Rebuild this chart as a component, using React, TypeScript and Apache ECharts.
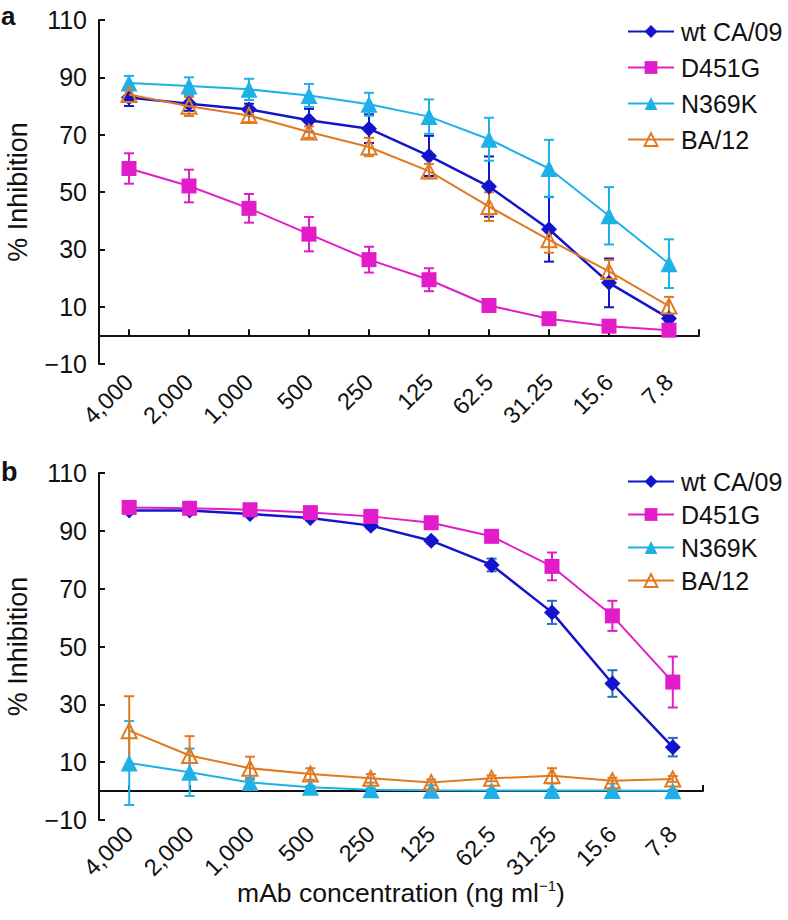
import React, { useEffect, useRef } from 'react';
import * as echarts from 'echarts';

// ---------- data ----------
const categories = ['4,000', '2,000', '1,000', '500', '250', '125', '62.5', '31.25', '15.6', '7.8'];
const seriesNames = ['wt CA/09', 'D451G', 'N369K', 'BA/12'];
const yTicks = { min: -10, max: 110, interval: 20 };

// panel a
const aWt = [83, 80.8, 78.8, 75, 72.1, 62.6, 51.9, 37, 18.3, 5.9];
const aWtErr = [3, 2.5, 2, 4, 5, 7, 10.5, 11.3, 8.5, 1];
const aD451G = [58.2, 52.1, 44.3, 35.3, 26.4, 19.4, 10.4, 5.8, 3.2, 1.8];
const aD451GErr = [5.3, 5.7, 5, 6, 4.5, 4, 1, 1, 0.8, 0.5];
const aN369K = [88, 87, 85.8, 83.7, 80.6, 76.3, 68.4, 58.2, 41.7, 25];
const aN369KErr = [2.5, 3, 3.7, 4, 4, 6, 7.5, 10, 10, 8.5];
const aBA12 = [84, 79.9, 76.7, 70.9, 65.7, 57.3, 44.9, 33.3, 22.3, 10.2];
const aBA12Err = [2.5, 3.4, 2.3, 2, 3.2, 2.5, 5, 4.5, 4, 3.2];

// panel b
const bWt = [97, 97, 95.8, 94.4, 91.8, 86.6, 78.2, 61.8, 37.2, 15.2];
const bWtErr = [1, 0.8, 0.8, 0.8, 1, 1, 2.2, 4, 4.6, 3.2];
const bD451G = [98.1, 97.8, 97.3, 96.3, 95, 92.8, 88.1, 77.7, 60.6, 37.7];
const bD451GErr = [1, 1, 1, 1, 1, 1, 1.2, 4.8, 5.2, 8.8];
const bN369K = [9.7, 6.5, 3, 1.3, 0.5, 0.3, 0.2, 0.2, 0.2, 0.1];
const bN369KErr = [14.5, 8.2, 1.5, 0.5, 0.5, 0.3, 0.3, 0.3, 0.3, 0.3];
const bBA12 = [20.9, 12.3, 7.9, 5.9, 4.4, 3, 4.4, 5.3, 3.6, 4.2];
const bBA12Err = [11.9, 6.7, 4, 2, 1.5, 1, 1, 2.6, 1, 1];

// ---------- styles ----------
const FONT = '"Liberation Sans", Arial, Helvetica, sans-serif';
const INK = '#111111';
const colors = ['#1414cc', '#e21cc9', '#1eb1e8', '#e07a22'];
const errColorsA = ['#1414cc', '#e21cc9', '#1eb1e8', '#e07a22'];
const errColorsB = ['#2a6cc4', '#e21cc9', '#1eb1e8', '#e07a22'];
const symbols = ['diamond', 'rect', 'triangle', 'triangle'];
const symbolSizes = [16, 15, 17, 15];
const lineWidths = [2.5, 2, 2, 2];

function errRender(color: string) {
  return (params: any, api: any) => {
    const xi = api.value(0);
    const lo = api.coord([xi, api.value(1)]);
    const hi = api.coord([xi, api.value(2)]);
    const hw = 5;
    const style = { stroke: color, lineWidth: 2, fill: 'none' };
    return {
      type: 'group',
      children: [
        { type: 'line', shape: { x1: lo[0], y1: lo[1], x2: hi[0], y2: hi[1] }, style },
        { type: 'line', shape: { x1: lo[0] - hw, y1: lo[1], x2: lo[0] + hw, y2: lo[1] }, style },
        { type: 'line', shape: { x1: hi[0] - hw, y1: hi[1], x2: hi[0] + hw, y2: hi[1] }, style },
      ],
    };
  };
}

function makeSeries(panel: number, vals: number[][], errs: number[][], errColors: string[]) {
  const out: any[] = [];
  vals.forEach((v, k) => {
    out.push({
      type: 'custom',
      name: 'err-' + panel + '-' + k,
      xAxisIndex: panel,
      yAxisIndex: panel,
      silent: true,
      z: 1,
      renderItem: errRender(errColors[k]),
      encode: { x: 0, y: [1, 2] },
      data: v.map((y, i) => [i, y - errs[k][i], y + errs[k][i]]),
    });
  });
  vals.forEach((v, k) => {
    const open = k === 3;
    out.push({
      type: 'line',
      name: seriesNames[k],
      xAxisIndex: panel,
      yAxisIndex: panel,
      z: 2 + k,
      symbol: symbols[k],
      symbolSize: symbolSizes[k],
      showAllSymbol: true,
      lineStyle: { color: colors[k], width: lineWidths[k] },
      itemStyle: open
        ? { color: 'rgba(255,255,255,0)', borderColor: colors[k], borderWidth: 2 }
        : { color: colors[k], borderWidth: 0 },
      data: v,
    });
  });
  return out;
}

const yAxisBase = (grid: number) => ({
  type: 'value',
  gridIndex: grid,
  min: yTicks.min,
  max: yTicks.max,
  interval: yTicks.interval,
  name: '% Inhibition',
  nameLocation: 'middle',
  nameGap: 68,
  nameMoveOverlap: false,
  nameTextStyle: { fontSize: 27, color: INK, fontFamily: FONT },
  splitLine: { show: false },
  axisLine: { show: true, lineStyle: { color: INK, width: 2 } },
  axisTick: { show: true, inside: true, length: 6, lineStyle: { color: INK, width: 2 } },
  axisLabel: {
    fontSize: 25,
    color: INK,
    fontFamily: FONT,
    margin: 12,
    formatter: (v: number) => String(v).replace('-', '\u2212'),
  },
});

const legendBase = (top: number, gap: number) => ({
  data: seriesNames,
  orient: 'vertical',
  left: 622,
  top,
  itemWidth: 46,
  itemHeight: 16,
  itemGap: gap,
  selectedMode: false,
  textStyle: { fontSize: 25, color: INK, fontFamily: FONT, padding: [0, 0, 0, 2] },
});

function buildOption() {
  return {
    animation: false,
    backgroundColor: '#ffffff',
    textStyle: { fontFamily: FONT, color: INK },
    grid: [
      { left: 99, top: 20, width: 600, height: 344, outerBoundsMode: 'none', containLabel: false },
      { left: 99, top: 473, width: 604, height: 347, outerBoundsMode: 'none', containLabel: false },
    ],
    legend: [legendBase(14, 11), legendBase(464, 8)],
    xAxis: [
      {
        type: 'category',
        gridIndex: 0,
        data: categories,
        axisLine: { show: true, onZero: true, lineStyle: { color: INK, width: 2 } },
        axisTick: { show: true, inside: true, alignWithLabel: true, length: 6, lineStyle: { color: INK, width: 2 } },
        axisLabel: { rotate: 45, interval: 0, fontSize: 23.5, color: INK, fontFamily: FONT, margin: 14 },
        splitLine: { show: false },
      },
      {
        type: 'category',
        gridIndex: 1,
        data: categories,
        axisLine: { show: true, onZero: true, lineStyle: { color: INK, width: 2 } },
        axisTick: { show: true, inside: true, alignWithLabel: true, length: 6, lineStyle: { color: INK, width: 2 } },
        axisLabel: { show: false },
        splitLine: { show: false },
      },
      {
        type: 'category',
        gridIndex: 1,
        position: 'bottom',
        data: categories,
        axisLine: { show: false, onZero: false },
        axisTick: { show: false },
        axisLabel: { rotate: 45, interval: 0, fontSize: 23.5, color: INK, fontFamily: FONT, margin: 10 },
        splitLine: { show: false },
        name: '{a|mAb concentration (ng ml}{s|\u22121}{a|)}',
        nameLocation: 'middle',
        nameGap: 58,
        nameMoveOverlap: false,
        nameTextStyle: {
          rich: {
            a: { fontSize: 26.5, lineHeight: 30, color: INK, fontFamily: FONT },
            s: { fontSize: 15, lineHeight: 15, verticalAlign: 'top', color: INK, fontFamily: FONT },
          },
        },
      },
    ],
    yAxis: [yAxisBase(0), yAxisBase(1)],
    series: [
      ...makeSeries(0, [aWt, aD451G, aN369K, aBA12], [aWtErr, aD451GErr, aN369KErr, aBA12Err], errColorsA),
      ...makeSeries(1, [bWt, bD451G, bN369K, bBA12], [bWtErr, bD451GErr, bN369KErr, bBA12Err], errColorsB),
    ],
  };
}

export default function App() {
  const ref = useRef<HTMLDivElement>(null);
  useEffect(() => {
    if (!ref.current) return;
    const chart = echarts.init(ref.current, null, { renderer: 'svg' });
    chart.setOption(buildOption() as any);

    const endTick = (ai: number) => {
      const last = chart.convertToPixel({ xAxisIndex: ai, yAxisIndex: ai }, [categories.length - 1, 0]) as number[];
      const prev = chart.convertToPixel({ xAxisIndex: ai, yAxisIndex: ai }, [categories.length - 2, 0]) as number[];
      const xr = last[0] + (last[0] - prev[0]) / 2;
      return {
        type: 'line',
        shape: { x1: xr, y1: last[1], x2: xr, y2: last[1] - 6 },
        style: { stroke: INK, lineWidth: 2 },
        z: 10,
      };
    };

    chart.setOption({
      graphic: [
        { type: 'text', x: 1, y: 3, style: { text: 'a', fontSize: 26, fontWeight: 'bold', fill: INK, fontFamily: FONT, verticalAlign: 'top' } },
        { type: 'text', x: 1, y: 458, style: { text: 'b', fontSize: 27, fontWeight: 'bold', fill: INK, fontFamily: FONT, verticalAlign: 'top' } },
        endTick(0),
        endTick(1),
      ],
    } as any);

    return () => chart.dispose();
  }, []);

  return (
    <div
      ref={ref}
      style={{ position: 'absolute', left: 0, top: 0, width: 788, height: 920, background: '#fff' }}
    />
  );
}
